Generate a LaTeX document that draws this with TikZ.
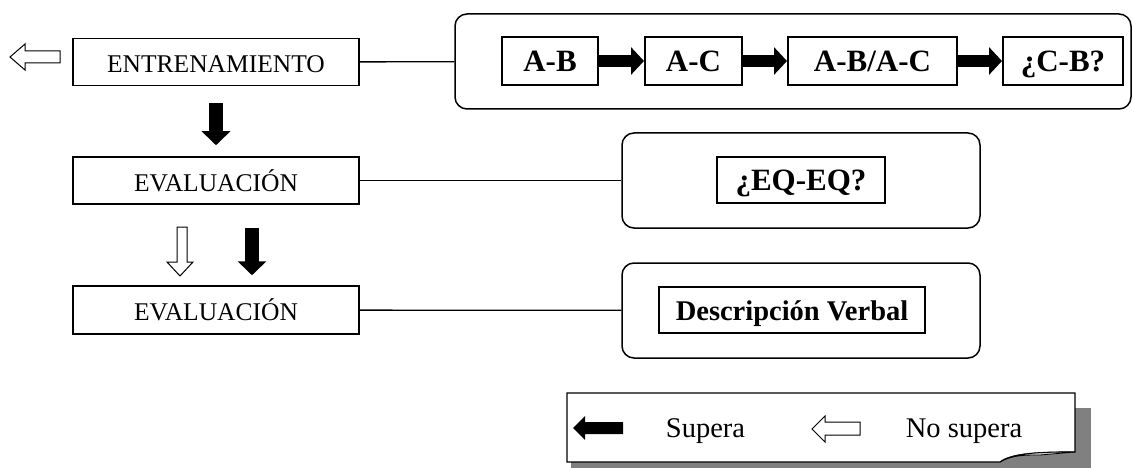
\documentclass[tikz,border=0pt]{standalone}
\usepackage{fontspec}
\setmainfont{Liberation Serif}
\usetikzlibrary{arrows.meta}
\begin{document}
\begin{tikzpicture}[x=1pt,y=-1pt,
  plainbox/.style={draw, line width=1.5pt, inner sep=0pt, minimum width=286pt, minimum height=47pt,
    text height=21pt, text depth=0pt, font=\fontsize{25.5}{30}\selectfont},
  innerbox/.style={draw, line width=2pt, inner sep=0pt, minimum height=48pt,
    text height=22pt, text depth=0pt, font=\fontsize{31}{36}\selectfont\bfseries},
  roundbox/.style={draw, line width=1.5pt, rounded corners=12pt, inner sep=0pt, minimum height=95pt},
  link/.style={line width=1.3pt},
  fatright/.style={line width=12pt, -{Triangle[length=13pt,width=27pt]}},
  fatdown/.style={line width=14pt, -{Triangle[length=14pt,width=28pt]}},
  hollow/.style={draw, line width=1pt, fill=white, line join=miter},
  solidarrow/.style={fill=black},
  legtext/.style={inner sep=0pt, text height=19pt, text depth=0pt, font=\fontsize{28.5}{33}\selectfont}
]
\useasboundingbox (0,0) rectangle (1133,468);

% left column
\node[plainbox] (ent) at (216,62) {ENTRENAMIENTO};
\node[plainbox] (ev1) at (216,180.5) {EVALUACIÓN};
\node[plainbox, minimum height=48pt] (ev2) at (216,310) {EVALUACIÓN};

% right rounded boxes
\node[roundbox, minimum width=676pt] (top) at (793,61.5) {};
\node[roundbox, minimum width=358pt] (mid) at (801,180.5) {};
\node[roundbox, minimum width=358pt] (bot) at (801,310.5) {};

% inner boxes
\node[innerbox, minimum width=96pt] (ab) at (550,61) {A-B};
\node[innerbox, minimum width=97pt] (ac) at (693.5,61) {A-C};
\node[innerbox, minimum width=169pt] (abac) at (872.5,61) {A-B/A-C};
\node[innerbox, minimum width=120pt] (cb) at (1063,61) {¿C-B?};
\node[innerbox, minimum width=168pt, minimum height=46pt, text height=20pt] (eq) at (801,180) {¿EQ-EQ?};
\node[innerbox, minimum width=266pt, minimum height=46pt, text height=20pt,
  font=\fontsize{28.5}{33}\selectfont\bfseries] (desc) at (792,310) {Descripción Verbal};

% links
\draw[link] (ent) -- (top);
\draw[link] (ev1) -- (mid);
\draw[link] (ev2) -- (bot);

% chain arrows
\draw[fatright] (ab) -- (ac);
\draw[fatright] (ac) -- (abac);
\draw[fatright] (abac) -- (cb);

% vertical arrows
\draw[fatdown, shorten <=17pt, shorten >=11pt] (ent) -- (ev1);
\draw[fatdown] ([xshift=36pt,yshift=-23pt]ev1.south) -- ([xshift=36pt,yshift=10pt]ev2.north);
\draw[hollow] (177,227) -- (187,227) -- (187,262) -- (193,262) -- (180,276) -- (167,262) -- (177,262) -- cycle;

% left hollow arrow
\draw[hollow] (60,51) -- (25,51) -- (25,44) -- (10,57) -- (25,70) -- (25,63) -- (60,63) -- cycle;

% legend
\fill[gray] (571,408) rectangle (1091,472);
\draw[line width=1.2pt, fill=white, line join=miter] (567,393) -- (1075,393) -- (1075,452)
  .. controls (1040,452) and (1012,453) .. (1000,462) -- (567,462) -- cycle;
\draw[line width=0.8pt, fill=gray!35] (1000,462) .. controls (1012,455) and (1025,455) .. (1040,455) -- (1075,452)
  .. controls (1040,452) and (1012,453) .. (1000,462);
\fill[solidarrow] (623,422) -- (585,422) -- (585,416) -- (573,428) -- (585,440) -- (585,434) -- (623,434) -- cycle;
\draw[hollow] (860,422) -- (825,422) -- (825,416) -- (812,429) -- (825,442) -- (825,435) -- (860,435) -- cycle;
\node[legtext] (sup) at (705.5,428) {Supera};
\node[legtext] (nosup) at (964,428) {No supera};
\end{tikzpicture}
\end{document}
